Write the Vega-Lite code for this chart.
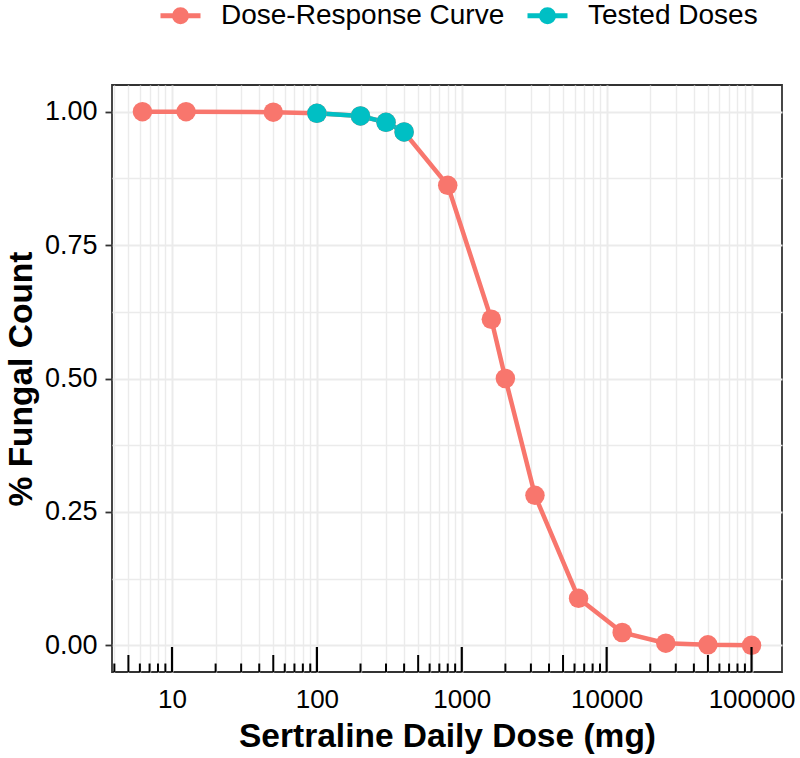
{
  "$schema": "https://vega.github.io/schema/vega-lite/v6.json",
  "width": 670,
  "height": 587,
  "autosize": {"type": "none"},
  "padding": {"left": 112, "top": 85, "right": 18, "bottom": 86},
  "background": "white",
  "config": {
    "font": "Liberation Sans",
    "view": {"stroke": "#333333", "strokeWidth": 1.8}
  },
  "datasets": {
    "curve": [
      {"dose": 6.25, "frac": 1.0, "series": "Dose-Response Curve"},
      {"dose": 12.5, "frac": 1.0, "series": "Dose-Response Curve"},
      {"dose": 50, "frac": 0.999, "series": "Dose-Response Curve"},
      {"dose": 100, "frac": 0.997, "series": "Dose-Response Curve"},
      {"dose": 200, "frac": 0.992, "series": "Dose-Response Curve"},
      {"dose": 300, "frac": 0.98, "series": "Dose-Response Curve"},
      {"dose": 400, "frac": 0.962, "series": "Dose-Response Curve"},
      {"dose": 800, "frac": 0.862, "series": "Dose-Response Curve"},
      {"dose": 1600, "frac": 0.611, "series": "Dose-Response Curve"},
      {"dose": 2000, "frac": 0.5, "series": "Dose-Response Curve"},
      {"dose": 3200, "frac": 0.281, "series": "Dose-Response Curve"},
      {"dose": 6400, "frac": 0.088, "series": "Dose-Response Curve"},
      {"dose": 12800, "frac": 0.024, "series": "Dose-Response Curve"},
      {"dose": 25600, "frac": 0.004, "series": "Dose-Response Curve"},
      {"dose": 50000, "frac": 0.001, "series": "Dose-Response Curve"},
      {"dose": 100000, "frac": 0.0, "series": "Dose-Response Curve"},
      {"dose": 100, "frac": 0.997, "series": "Tested Doses"},
      {"dose": 200, "frac": 0.992, "series": "Tested Doses"},
      {"dose": 300, "frac": 0.98, "series": "Tested Doses"},
      {"dose": 400, "frac": 0.962, "series": "Tested Doses"}
    ],
    "logticks": [
      {"dose": 4, "kind": "short"}, {"dose": 5, "kind": "mid"}, {"dose": 6, "kind": "short"}, {"dose": 7, "kind": "short"}, {"dose": 8, "kind": "short"}, {"dose": 9, "kind": "short"},
      {"dose": 10, "kind": "long"}, {"dose": 20, "kind": "short"}, {"dose": 30, "kind": "short"}, {"dose": 40, "kind": "short"}, {"dose": 50, "kind": "mid"}, {"dose": 60, "kind": "short"}, {"dose": 70, "kind": "short"}, {"dose": 80, "kind": "short"}, {"dose": 90, "kind": "short"},
      {"dose": 100, "kind": "long"}, {"dose": 200, "kind": "short"}, {"dose": 300, "kind": "short"}, {"dose": 400, "kind": "short"}, {"dose": 500, "kind": "mid"}, {"dose": 600, "kind": "short"}, {"dose": 700, "kind": "short"}, {"dose": 800, "kind": "short"}, {"dose": 900, "kind": "short"},
      {"dose": 1000, "kind": "long"}, {"dose": 2000, "kind": "short"}, {"dose": 3000, "kind": "short"}, {"dose": 4000, "kind": "short"}, {"dose": 5000, "kind": "mid"}, {"dose": 6000, "kind": "short"}, {"dose": 7000, "kind": "short"}, {"dose": 8000, "kind": "short"}, {"dose": 9000, "kind": "short"},
      {"dose": 10000, "kind": "long"}, {"dose": 20000, "kind": "short"}, {"dose": 30000, "kind": "short"}, {"dose": 40000, "kind": "short"}, {"dose": 50000, "kind": "mid"}, {"dose": 60000, "kind": "short"}, {"dose": 70000, "kind": "short"}, {"dose": 80000, "kind": "short"}, {"dose": 90000, "kind": "short"},
      {"dose": 100000, "kind": "long"}
    ]
  },
  "layer": [
    {
      "data": {"name": "curve"},
      "mark": {"type": "line", "strokeWidth": 4.5},
      "encoding": {
        "x": {
          "field": "dose", "type": "quantitative",
          "scale": {"type": "log", "domain": [3.853, 162300], "nice": false},
          "axis": {
            "values": [4,5,6,7,8,9,10,20,30,40,50,60,70,80,90,100,200,300,400,500,600,700,800,900,1000,2000,3000,4000,5000,6000,7000,8000,9000,10000,20000,30000,40000,50000,60000,70000,80000,90000,100000],
            "labelExpr": "indexof([10,100,1000,10000,100000], datum.value) >= 0 ? format(datum.value, 'd') : ''",
            "ticks": false, "tickSize": 0, "domain": false,
            "grid": true, "gridColor": "#EBEBEB",
            "gridWidth": {"condition": {"test": "indexof([10,100,1000,10000,100000], datum.value) >= 0", "value": 2}, "value": 1.4},
            "labelFontSize": 26, "labelColor": "black", "labelPadding": 14,
            "labelOverlap": false, "labelFlush": false, "labelBound": false,
            "title": "Sertraline Daily Dose (mg)", "titleFontSize": 33.5, "titleFontWeight": "bold", "titleColor": "black", "titlePadding": 8
          }
        },
        "y": {
          "field": "frac", "type": "quantitative",
          "scale": {"domain": [-0.05, 1.05], "nice": false, "zero": false},
          "axis": {
            "values": [0, 0.125, 0.25, 0.375, 0.5, 0.625, 0.75, 0.875, 1],
            "labelExpr": "(datum.value * 4) % 1 == 0 ? format(datum.value, '.2f') : ''",
            "domain": false,
            "tickColor": "#333333", "tickSize": 7, "tickWidth": 1.8,
            "tickOpacity": {"condition": {"test": "(datum.value * 4) % 1 != 0", "value": 0}, "value": 1},
            "grid": true, "gridColor": "#EBEBEB",
            "gridWidth": {"condition": {"test": "(datum.value * 4) % 1 == 0", "value": 2}, "value": 1.4},
            "labelFontSize": 27, "labelColor": "black", "labelPadding": 8, "labelOverlap": false, "labelBound": false,
            "title": "% Fungal Count", "titleFontSize": 33.5, "titleFontWeight": "bold", "titleColor": "black", "titlePadding": 6
          }
        },
        "color": {
          "field": "series", "type": "nominal",
          "scale": {"domain": ["Dose-Response Curve", "Tested Doses"], "range": ["#F8766D", "#00BFC4"]},
          "legend": {
            "orient": "none", "legendX": 46, "legendY": -92, "direction": "horizontal",
            "title": null, "padding": 0,
            "labelFontSize": 28, "labelColor": "black", "labelOffset": 18, "columnPadding": 12, "labelLimit": 0,
            "symbolType": "M-1,0H1M0.3,0A0.3,0.3,0,1,1,-0.3,0A0.3,0.3,0,1,1,0.3,0Z",
            "symbolSize": 1600, "symbolStrokeWidth": 5,
            "encode": {"symbols": {"update": {"fill": {"scale": "color", "field": "value"}, "stroke": {"scale": "color", "field": "value"}, "opacity": {"value": 1}}}}
          }
        }
      }
    },
    {
      "data": {"name": "curve"},
      "mark": {"type": "point", "filled": true, "opacity": 1, "size": 380},
      "encoding": {
        "x": {"field": "dose", "type": "quantitative"},
        "y": {"field": "frac", "type": "quantitative"},
        "color": {"field": "series", "type": "nominal"}
      }
    },
    {
      "data": {"name": "logticks"},
      "transform": [{"filter": "datum.kind == 'long'"}],
      "mark": {"type": "rule", "color": "black", "strokeWidth": 2.2},
      "encoding": {
        "x": {"field": "dose", "type": "quantitative"},
        "y": {"datum": -0.05, "type": "quantitative"},
        "y2": {"datum": -0.0031}
      }
    },
    {
      "data": {"name": "logticks"},
      "transform": [{"filter": "datum.kind == 'mid'"}],
      "mark": {"type": "rule", "color": "black", "strokeWidth": 2},
      "encoding": {
        "x": {"field": "dose", "type": "quantitative"},
        "y": {"datum": -0.05, "type": "quantitative"},
        "y2": {"datum": -0.0181}
      }
    },
    {
      "data": {"name": "logticks"},
      "transform": [{"filter": "datum.kind == 'short'"}],
      "mark": {"type": "rule", "color": "black", "strokeWidth": 2},
      "encoding": {
        "x": {"field": "dose", "type": "quantitative"},
        "y": {"datum": -0.05, "type": "quantitative"},
        "y2": {"datum": -0.0341}
      }
    }
  ]
}
